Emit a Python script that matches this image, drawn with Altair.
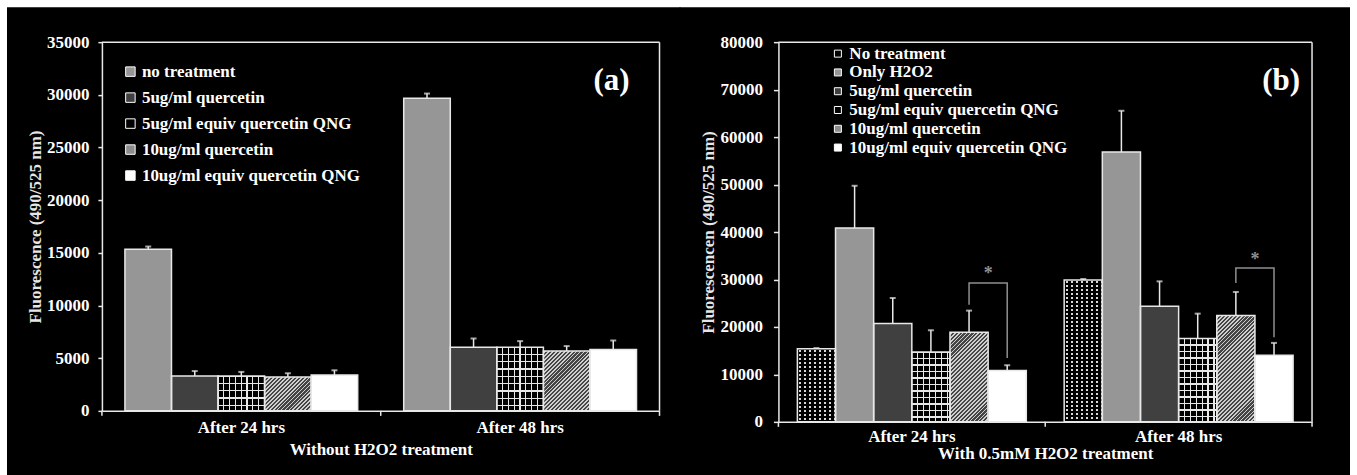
import altair as alt
import pandas as pd

# ---------------- data ----------------
times = ["After 24 hrs", "After 48 hrs"]

a_series = ["no treatment", "5ug/ml quercetin", "5ug/ml equiv quercetin QNG",
            "10ug/ml quercetin", "10ug/ml equiv quercetin QNG"]
a_mean_24 = [15350, 3300, 3300, 3220, 3400]
a_err_24 = [250, 480, 400, 350, 450]
a_mean_48 = [29670, 6050, 6050, 5680, 5830]
a_err_48 = [450, 820, 570, 470, 850]

b_series = ["No treatment", "Only H2O2", "5ug/ml quercetin", "5ug/ml equiv quercetin QNG",
            "10ug/ml quercetin", "10ug/ml equiv quercetin QNG"]
b_mean_24 = [15400, 40840, 20700, 14740, 18880, 10800]
b_err_24 = [150, 8900, 5400, 4560, 4560, 1130]
b_mean_48 = [29900, 56840, 24350, 17540, 22390, 14035]
b_err_48 = [200, 8700, 5250, 5260, 4980, 2600]

# significance brackets (panel b): left foot, top, right foot, star
b_bracket_24 = [24700, 29260, 13470, 31870]
b_bracket_48 = [29260, 32420, 17830, 34740]

# ---------------- styles ----------------
FONT = "Liberation Serif"
EDGE = "#e8e8e8"
BR = "#8f8f8f"
CLEAR = "rgba(0,0,0,0)"

a_fill = ["#969696", "#404040", "#000000", "#8c8c8c", "#ffffff"]
a_pattern = [None, None, "grid", "hatch", None]
b_fill = ["#000000", "#969696", "#404040", "#000000", "#8c8c8c", "#ffffff"]
b_pattern = ["dots", None, None, "grid", "hatch", None]


def make_df(series, m24, e24, m48, e48):
    rows = []
    for t, ms, es in ((times[0], m24, e24), (times[1], m48, e48)):
        for s, m, e in zip(series, ms, es):
            rows.append({"time": t, "series": s, "value": m, "err": e, "upper": m + e})
    return pd.DataFrame(rows)


def rd(v):
    return round(min(max(v, 0.0), 1.0), 5)


def stripe_stops(length, period, lw, phase, on, off):
    pts = [(0.0, off)]
    c = phase - period
    while c - lw / 2 < length:
        a = max(0.0, c - lw / 2)
        b = min(length, c + lw / 2)
        if b > 0 and b > a:
            pts += [(a, off), (a, on), (b, on), (b, off)]
        c += period
    pts.append((length, off))
    return [{"offset": rd(p / length), "color": col} for p, col in pts]


def grad(stops, x1, y1, x2, y2):
    return {"gradient": "linear", "x1": x1, "y1": y1, "x2": x2, "y2": y2, "stops": stops}


def pattern_fills(kind, w, h, gx, gy):
    if kind == "grid":
        return [grad(stripe_stops(w, gx, 1.3, gx, EDGE, CLEAR), 0, 0, 1, 0),
                grad(stripe_stops(h, gy, 1.3, gy, EDGE, CLEAR), 0, 0, 0, 1)]
    if kind == "hatch":
        r = w / h
        b = (1 + r) / (1 + r * r)
        a = r * b
        L = (w + h) / 2 ** 0.5
        return [grad(stripe_stops(L, 2.8, 1.3, 1.4, "#cfcfcf", "#454545"), 0, 0, a, b)]
    if kind == "dots":
        return [grad(stripe_stops(h, 4.0, 2.0, 2.0, "#d8d8d8", CLEAR), 0, 0, 0, 1),
                grad(stripe_stops(w, 5.0, 3.0, 0.0, "#000000", CLEAR), 0, 0, 1, 0)]
    return []


def panel(series, fills, patterns, m24, e24, m48, e48, W, H, ymax, ystep, pad_inner,
          xtitle, ytitle, legend, tag, tag_xy, bg, gx, gy, xlab_pad, xtitle_pad,
          ylab_pad, ytick, brackets=None):
    df = make_df(series, m24, e24, m48, e48)
    one = pd.DataFrame([{"k": 0}])
    n = len(series)
    band = W / 2 * (1 - pad_inner)
    bw = band / n

    xs = alt.Scale(domain=times, paddingInner=pad_inner, paddingOuter=pad_inner / 2)
    xo = alt.Scale(domain=series, paddingInner=0, paddingOuter=0)
    ys = alt.Scale(domain=[0, ymax], nice=False, zero=True)
    x_axis = alt.Axis(labelAngle=0, ticks=False, tickSize=0, grid=False, domainColor=EDGE,
                      domainWidth=1.5, labelFont=FONT, labelFontSize=17, labelFontWeight="bold",
                      labelColor="white", labelPadding=xlab_pad, titleFont=FONT, titleFontSize=17,
                      titleFontWeight="bold", titleColor="white", titlePadding=xtitle_pad, zindex=1)
    y_axis = alt.Axis(values=list(range(0, ymax + 1, ystep)), format="d", grid=False,
                      domainColor=EDGE, domainWidth=1.5, tickColor=EDGE, tickWidth=1.5,
                      tickSize=ytick, labelFont=FONT, labelFontSize=17, labelFontWeight="bold",
                      labelColor="white", labelPadding=ylab_pad, titleFont=FONT, titleFontSize=17,
                      titleFontWeight="bold", titleColor="#e6e6e6", titlePadding=2, zindex=1)
    X = alt.X("time:N", scale=xs, title=xtitle, axis=x_axis)
    XO = alt.XOffset("series:N", scale=xo)

    def Y(field):
        return alt.Y(f"{field}:Q", scale=ys, title=ytitle, axis=y_axis)

    layers = []
    # black backdrop
    layers.append(alt.Chart(one).mark_rect(color="black").encode(
        x=alt.value(bg[0]), x2=alt.value(bg[1]), y=alt.value(bg[2]), y2=alt.value(bg[3])))
    # base bars
    layers.append(alt.Chart(df).mark_bar().encode(
        x=X, xOffset=XO, y=Y("value"),
        fill=alt.Fill("series:N", scale=alt.Scale(domain=series, range=fills), legend=legend)))
    # pattern overlays
    for t, ms in ((times[0], m24), (times[1], m48)):
        for s, m, p in zip(series, ms, patterns):
            if p is None:
                continue
            h = m / ymax * H
            for g in pattern_fills(p, bw, h, gx, gy):
                layers.append(alt.Chart(df).transform_filter(
                    f"datum.time == '{t}' && datum.series == '{s}'"
                ).mark_bar(fill=g).encode(x=X, xOffset=XO, y=Y("value")))
    # outlines
    layers.append(alt.Chart(df).mark_bar(fill="transparent", stroke=EDGE, strokeWidth=1.5).encode(
        x=X, xOffset=XO, y=Y("value")))
    # error bars
    layers.append(alt.Chart(df).mark_rule(color=EDGE, strokeWidth=1.5).encode(
        x=X, xOffset=XO, y=Y("value"), y2=alt.Y2("upper:Q")))
    layers.append(alt.Chart(df).mark_tick(color=EDGE, orient="horizontal", size=6, thickness=2).encode(
        x=X, xOffset=XO, y=Y("upper")))
    # frame (top / right) and bottom ticks
    layers.append(alt.Chart(one).mark_rule(color=EDGE, strokeWidth=1.5).encode(
        x=alt.value(0), x2=alt.value(W), y=alt.value(0)))
    layers.append(alt.Chart(one).mark_rule(color=EDGE, strokeWidth=1.5).encode(
        x=alt.value(W), y=alt.value(0), y2=alt.value(H)))
    for f in (0, 0.5, 1):
        layers.append(alt.Chart(one).mark_rule(color=EDGE, strokeWidth=1.5).encode(
            x=alt.value(f * W), y=alt.value(H), y2=alt.value(H + 5)))
    # brackets
    if brackets is not None:
        s_left, s_right = series[-2], series[-1]
        rows, stars = [], []
        for t, (lf, top, rf, st) in zip(times, brackets):
            rows += [{"time": t, "series": s_left, "value": lf, "ord": 0},
                     {"time": t, "series": s_left, "value": top, "ord": 1},
                     {"time": t, "series": s_right, "value": top, "ord": 2},
                     {"time": t, "series": s_right, "value": rf, "ord": 3}]
            stars.append({"time": t, "series": s_left, "value": st})
        layers.append(alt.Chart(pd.DataFrame(rows)).mark_line(color=BR, strokeWidth=1.5).encode(
            x=X, xOffset=XO, y=Y("value"), detail="time:N", order="ord:Q"))
        layers.append(alt.Chart(pd.DataFrame(stars)).mark_text(
            text="*", dx=bw / 2, dy=3, font=FONT, fontSize=18, fontWeight="bold", color=BR,
            baseline="middle", align="center").encode(x=X, xOffset=XO, y=Y("value")))
    # panel tag
    layers.append(alt.Chart(one).mark_text(
        text=tag, font=FONT, fontSize=31, fontWeight="bold", color="white",
        align="center", baseline="middle").encode(x=alt.value(tag_xy[0]), y=alt.value(tag_xy[1])))

    return alt.layer(*layers).properties(width=W, height=H)


leg_a = alt.Legend(title=None, orient="none", legendX=20, legendY=21, labelFont=FONT,
                   labelFontSize=17, labelFontWeight="bold", labelColor="white",
                   symbolType="square", symbolSize=90, symbolStrokeColor="white",
                   symbolStrokeWidth=1, rowPadding=8, labelOffset=3, padding=0, labelLimit=500)
leg_b = alt.Legend(title=None, orient="none", legendX=51, legendY=3, labelFont=FONT,
                   labelFontSize=17, labelFontWeight="bold", labelColor="white",
                   symbolType="square", symbolSize=49, symbolStrokeColor="white",
                   symbolStrokeWidth=1, rowPadding=0.8, labelOffset=3, padding=0, labelLimit=500)

left = panel(a_series, a_fill, a_pattern, a_mean_24, a_err_24, a_mean_48, a_err_48,
             W=558, H=369, ymax=35000, ystep=5000, pad_inner=0.165,
             xtitle="Without H2O2 treatment", ytitle="Fluorescence (490/525 nm)",
             legend=leg_a, tag="(a)", tag_xy=(510, 39), bg=(-95, 579, -35, 434),
             gx=5.8, gy=7.3, xlab_pad=9, xtitle_pad=6, ylab_pad=9, ytick=4)

right = panel(b_series, b_fill, b_pattern, b_mean_24, b_err_24, b_mean_48, b_err_48,
              W=534, H=380, ymax=80000, ystep=10000, pad_inner=0.142,
              xtitle="With 0.5mM H2O2 treatment", ytitle="Fluorescencen (490/525 nm)",
              legend=leg_b, tag="(b)", tag_xy=(503, 39), bg=(-99, 572, -35, 434),
              gx=5.9, gy=6.5, xlab_pad=7, xtitle_pad=1, ylab_pad=11, ytick=5,
              brackets=[b_bracket_24, b_bracket_48])

chart = alt.hconcat(left, right, spacing=-3).resolve_scale(
    x="independent", y="independent", xOffset="independent", fill="independent"
).resolve_legend(fill="independent").properties(
    padding={"left": 6, "top": 6, "right": 6, "bottom": 0}, background="white"
).configure_view(stroke="transparent")

chart.save("out.html", embed_options={"renderer": "svg", "actions": False})
